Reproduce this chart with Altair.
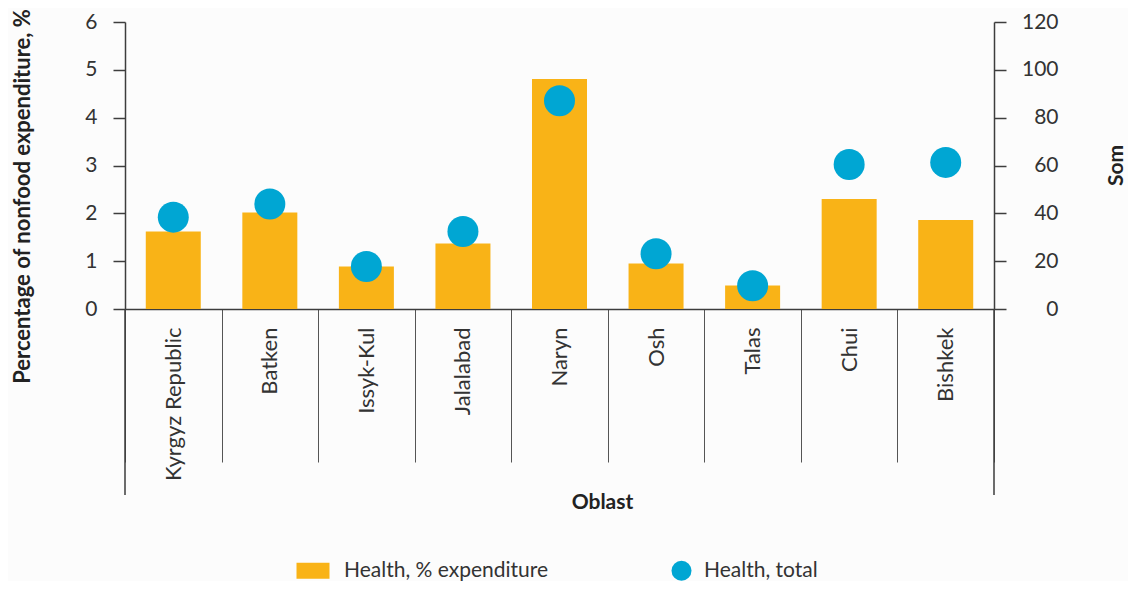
import altair as alt
import pandas as pd

oblasts = ["Kyrgyz Republic", "Batken", "Issyk-Kul", "Jalalabad", "Naryn",
           "Osh", "Talas", "Chui", "Bishkek"]
health_pct = [1.62, 2.02, 0.89, 1.37, 4.81, 0.95, 0.49, 2.30, 1.86]
health_som = [38.4, 43.9, 17.8, 32.4, 87.1, 23.1, 9.7, 60.4, 61.3]
series_names = ["Health, % expenditure", "Health, total"]

df = pd.DataFrame({"oblast": oblasts, "pct": health_pct, "som": health_som})

FONT = "Lato"
ORANGE = "#F9B317"
BLUE = "#00A6D3"
AX = "#3d3d3d"
W, H = 869, 287
RECT = "M-2.5,-0.8H0.8V0.8H-2.5Z"

xenc = alt.X("oblast:N", sort=oblasts, title="Oblast",
             scale=alt.Scale(paddingInner=0, paddingOuter=0),
             axis=alt.Axis(labelAngle=-90, labelAlign="right", labelBaseline="middle",
                           tickBand="extent", tickSize=153, tickColor="#555555",
                           tickWidth=1, labelPadding=-135, domainColor=AX,
                           domainWidth=1.5, labelFont=FONT, labelFontSize=22,
                           labelColor="#333333", titleFont=FONT, titleFontSize=21,
                           titleFontWeight="bold", titleColor="#222222",
                           titleX=477, titleY=193, titleBaseline="middle",
                           titleAlign="center"))

legend = alt.Legend(title=None, orient="none", legendX=186, legendY=538,
                    direction="horizontal", columns=2, columnPadding=122,
                    symbolSize=400, labelOffset=12, labelFont=FONT,
                    labelFontSize=21, labelColor="#333333",
                    symbolStrokeWidth=0, labelLimit=400)

color = alt.Color("series:N", scale=alt.Scale(domain=series_names, range=[ORANGE, BLUE]),
                  legend=legend)
shape = alt.Shape("series:N", scale=alt.Scale(domain=series_names, range=[RECT, "circle"]),
                  legend=legend)

bars = alt.Chart(df).transform_calculate(series=f"'{series_names[0]}'").mark_bar(
    width=55).encode(
    x=xenc,
    y=alt.Y("pct:Q", title="Percentage of nonfood expenditure, %",
            scale=alt.Scale(domain=[0, 6]),
            axis=alt.Axis(values=[0, 1, 2, 3, 4, 5, 6], grid=False, tickSize=12,
                          tickColor=AX, tickWidth=1.5, domainColor=AX, domainWidth=1.5,
                          labelPadding=16, labelFont=FONT, labelFontSize=21,
                          labelColor="#333333", titleFont=FONT, titleFontSize=22,
                          titleFontWeight="bold", titleColor="#222222",
                          titleX=-103, titleY=174, titleAngle=270,
                          titleAlign="center", titleBaseline="middle")),
    color=color,
)

points = alt.Chart(df).transform_calculate(series=f"'{series_names[1]}'").mark_point(
    filled=True, size=960, opacity=1).encode(
    x=alt.X("oblast:N", sort=oblasts),
    y=alt.Y("som:Q", title="Som", scale=alt.Scale(domain=[0, 120]),
            axis=alt.Axis(orient="right", values=[0, 20, 40, 60, 80, 100, 120],
                          grid=False, tickSize=12, tickColor=AX, tickWidth=1.5,
                          domainColor=AX, domainWidth=1.5, labelAlign="right",
                          labelPadding=52, labelFont=FONT, labelFontSize=21,
                          labelColor="#333333", titleFont=FONT, titleFontSize=21,
                          titleFontWeight="bold", titleColor="#222222",
                          titleX=122, titleY=143, titleAngle=270,
                          titleAlign="center", titleBaseline="middle")),
    color=color,
    shape=shape,
)

edge_left = alt.Chart(alt.Data(values=[{}])).mark_rule(color=AX, strokeWidth=1.5).encode(
    x=alt.X(datum=oblasts[0], bandPosition=0),
    y=alt.value(H), y2=alt.value(H + 186))
edge_right = alt.Chart(alt.Data(values=[{}])).mark_rule(color=AX, strokeWidth=1.5).encode(
    x=alt.X(datum=oblasts[-1], bandPosition=1),
    y=alt.value(H), y2=alt.value(H + 186))

chart = alt.layer(bars, points, edge_left, edge_right).resolve_scale(
    y="independent"
).properties(
    width=W, height=H,
    autosize=alt.AutoSizeParams(type="none"),
    padding={"left": 117, "top": 14, "right": 134, "bottom": 272},
    background="#fcfcfc",
).configure_view(stroke=None)

chart.save("out.html", embed_options={"renderer": "svg", "actions": False})
